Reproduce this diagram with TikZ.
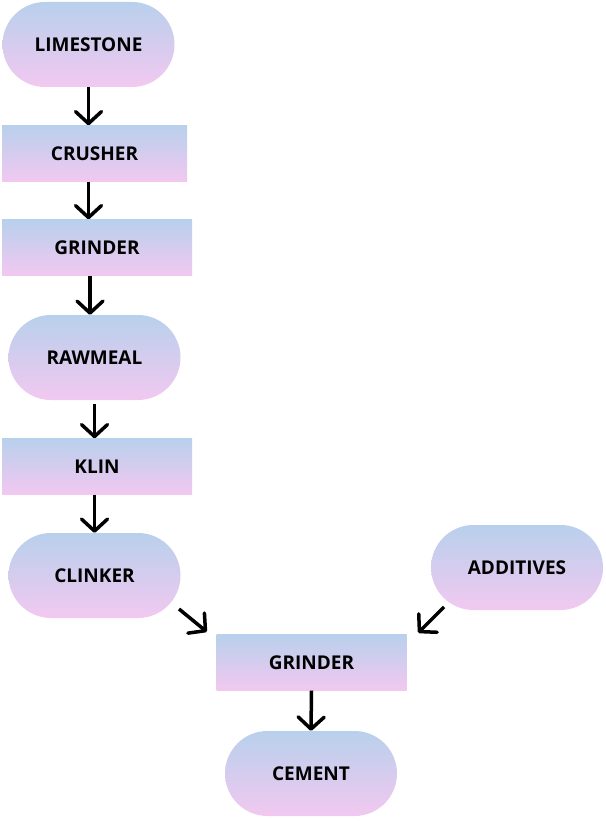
\documentclass[tikz,border=0pt]{standalone}
\usepackage{fontspec}
\setmainfont{Open Sans}
\usetikzlibrary{calc}
\usetikzlibrary{arrows.meta}
\usetikzlibrary{shapes.misc}

\definecolor{stagetop}{HTML}{B8D0EC}
\definecolor{stagebot}{HTML}{F2C8F0}

\tikzset{
  stage/.style={shading=axis, top color=stagetop, bottom color=stagebot,
    font=\bfseries\fontsize{19}{22}\selectfont, inner sep=0pt},
  pill/.style={stage, rounded rectangle, minimum width=172, minimum height=85},
  box/.style={stage, rectangle, minimum width=190, minimum height=56},
  flow/.style={line width=3.5pt, -{Straight Barb[length=12pt,width=26pt,round]}},
}

\begin{document}
\begin{tikzpicture}[x=1pt, y=-1pt]
  \useasboundingbox (0,0) rectangle (605,821);

  % left column
  \node[pill] (limestone) at (88.5,44.5)  {LIMESTONE};
  \node[box, minimum width=185] (crusher) at (94.5,153.5) {CRUSHER};
  \node[box] (grinderA)  at (97,247.5)  {GRINDER};
  \node[pill] (rawmeal)  at (94.5,357.5) {RAWMEAL};
  \node[box] (klin)      at (97,466.5)  {KLIN};
  \node[pill] (clinker)  at (94.5,575.5) {CLINKER};

  % right part
  \node[pill] (additives) at (517,567.5) {ADDITIVES};
  \node[box] (grinderB)   at (311.5,662.5) {GRINDER};
  \node[pill] (cement)    at (311,773.5) {CEMENT};

  % connectors
  \draw[flow] (limestone.south) -- (limestone.south |- crusher.north);
  \draw[flow] (crusher.south -| limestone.south) -- (limestone.south |- grinderA.north);
  \draw[flow] ([xshift=-7pt]grinderA.south) -- ([xshift=-7pt]grinderA.south |- rawmeal.north);
  \draw[flow] ([yshift=-4pt]rawmeal.south) -- (rawmeal.south |- klin.north);
  \draw[flow] (klin.south -| clinker.north) -- (clinker.north);
  \draw[flow] ($(clinker.center)+(84.5,33.5)$) -- ($(grinderB.north west)+(-9.5,-2.5)$);
  \draw[flow] ($(additives.center)+(-73,39.5)$) -- ($(grinderB.north east)+(11.5,-1.5)$);
  \draw[flow] (grinderB.south) -- (cement.north);
\end{tikzpicture}
\end{document}
